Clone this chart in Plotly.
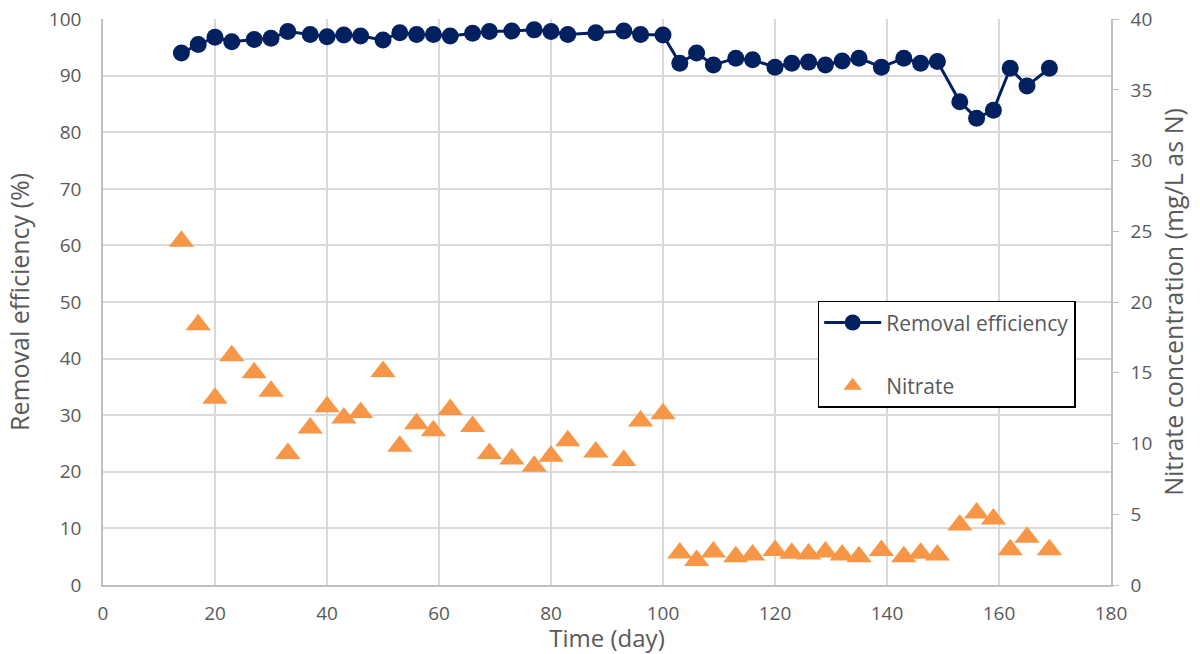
import plotly.graph_objects as go

days = [14, 17, 20, 23, 27, 30, 33, 37, 40, 43, 46, 50, 53, 56, 59, 62, 66, 69, 73, 77,
        80, 83, 88, 93, 96, 100, 103, 106, 109, 113, 116, 120, 123, 126, 129, 132, 135,
        139, 143, 146, 149, 153, 156, 159, 162, 165, 169]

removal_efficiency = [94.0, 95.5, 96.8, 96.0, 96.4, 96.6, 97.8, 97.3, 96.9, 97.2, 97.0,
                      96.3, 97.6, 97.3, 97.3, 97.0, 97.5, 97.8, 97.9, 98.1, 97.8, 97.3,
                      97.6, 97.9, 97.3, 97.2, 92.2, 94.0, 91.9, 93.1, 92.8, 91.5, 92.2,
                      92.4, 91.9, 92.6, 93.1, 91.5, 93.1, 92.2, 92.5, 85.4, 82.5, 83.9,
                      91.3, 88.2, 91.3]

nitrate = [24.3, 18.4, 13.2, 16.2, 15.0, 13.7, 9.3, 11.1, 12.6, 11.8, 12.2, 15.1, 9.8,
           11.4, 10.9, 12.4, 11.2, 9.3, 8.9, 8.4, 9.1, 10.2, 9.4, 8.8, 11.6, 12.1, 2.26,
           1.74, 2.33, 2.0, 2.12, 2.43, 2.24, 2.19, 2.33, 2.12, 2.0, 2.43, 2.0, 2.24,
           2.12, 4.24, 5.09, 4.66, 2.5, 3.37, 2.5]

x_ticks = list(range(0, 181, 20))
left_ticks = list(range(0, 101, 10))
right_ticks = list(range(0, 41, 5))

FONT = "Open Sans"
GRAY = "#595959"

fig = go.Figure()
fig.add_trace(go.Scatter(
    x=days, y=removal_efficiency, name="Removal efficiency",
    mode="lines+markers", legendgroup="a",
    line=dict(color="#002060", width=3),
    marker=dict(symbol="circle", size=17, color="#002060"),
    yaxis="y"))
fig.add_trace(go.Scatter(
    x=days, y=nitrate, name="Nitrate", mode="markers", legendgroup="b",
    marker=dict(symbol="triangle-up", size=22, color="#F79646",
                line=dict(width=0)),
    yaxis="y2"))

fig.update_layout(
    width=1200, height=654,
    margin=dict(l=103, r=89, t=19, b=69),
    paper_bgcolor="white", plot_bgcolor="white",
    font=dict(family=FONT, size=19, color=GRAY),
    xaxis=dict(range=[0, 180], tickvals=x_ticks, showgrid=True, gridcolor="#d9d9d9",
               gridwidth=1.5, showline=True, linecolor="#bfbfbf", linewidth=1.5,
               zeroline=False, ticks="", tickfont=dict(size=19, color=GRAY),
               automargin=False, ticklabelstandoff=10, ticklabeloverflow="allow",
               title=dict(text="Time (day)", font=dict(size=24, color=GRAY), standoff=6)),
    yaxis=dict(range=[0, 100.02], tickvals=left_ticks, showgrid=True, gridcolor="#d9d9d9",
               gridwidth=1.5, showline=True, linecolor="#bfbfbf", linewidth=1.5,
               zeroline=False, ticks="", tickfont=dict(size=19, color=GRAY),
               automargin=False, ticklabelstandoff=16, ticklabeloverflow="allow",
               title=dict(text="Removal efficiency (%)", font=dict(size=25, color=GRAY),
                          standoff=12)),
    yaxis2=dict(range=[0, 40.008], tickvals=right_ticks, overlaying="y", side="right",
                showgrid=False, showline=True, linecolor="#bfbfbf", linewidth=1.5,
                zeroline=False, ticks="outside", ticklen=6, tickcolor="#bfbfbf",
                tickfont=dict(size=19, color=GRAY), automargin=False,
                ticklabelstandoff=8, ticklabeloverflow="allow",
                title=dict(text="Nitrate concentration (mg/L as N)",
                           font=dict(size=25, color=GRAY), standoff=14)),
    legend=dict(x=0.709, y=0.502, xanchor="left", yanchor="top",
                bordercolor="black", borderwidth=1.5, bgcolor="white",
                font=dict(size=21, color=GRAY), tracegroupgap=33,
                itemwidth=57),
    showlegend=True,
)

fig.write_html("out.html", config={"displayModeBar": False},
               post_script="document.body.style.margin='0';document.body.style.overflow='hidden';")
